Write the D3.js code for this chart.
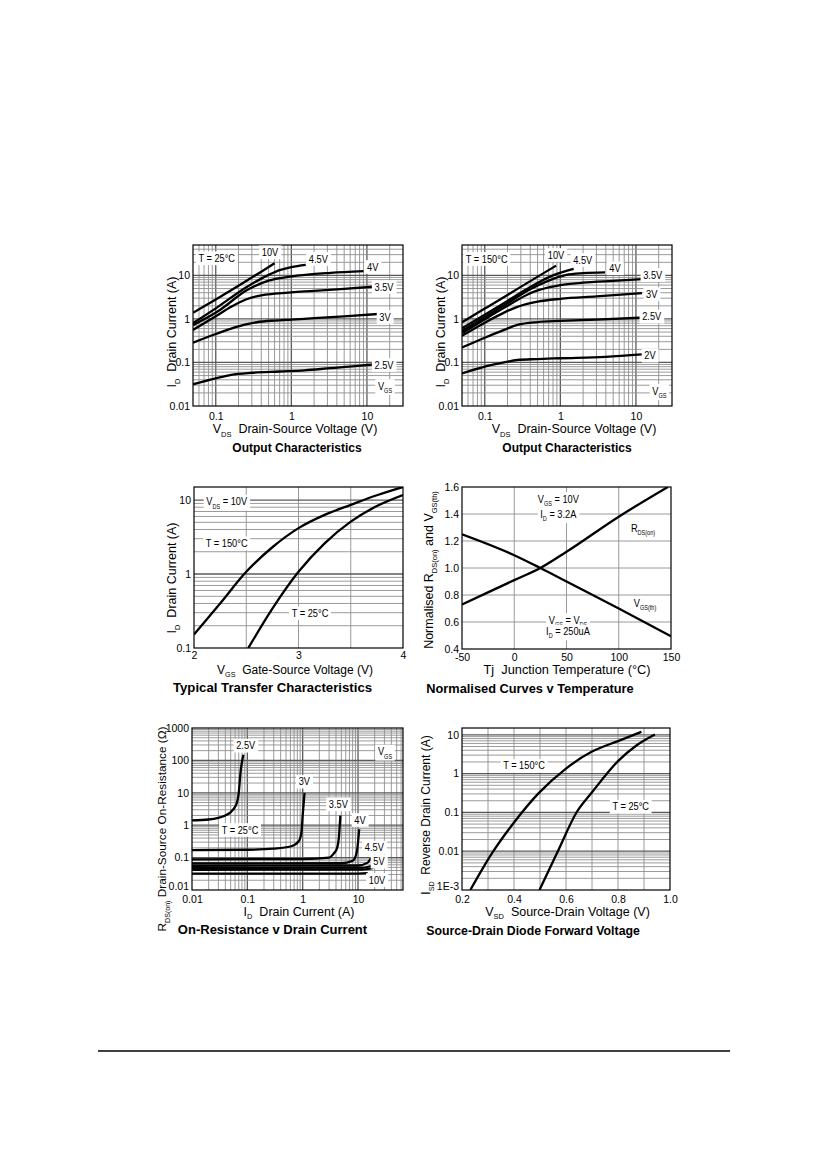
<!DOCTYPE html>
<html>
<head>
<meta charset="utf-8">
<script src="https://cdn.jsdelivr.net/npm/d3@7"></script>
<style>
  body { margin: 0; background: #fff; }
  svg { display: block; }
  text { font-family: "Liberation Sans", Arial, sans-serif; fill: #000; }
</style>
</head>
<body>
<svg id="page" width="826" height="1169"></svg>
<script>
/**
 * DATA
 * each curve is a list of [x, y] pairs
 * */

// Output characteristics, T = 25°C  (VDS in V, ID in A)
const out25Labels = ["10V", "4.5V", "4V", "3.5V", "3V", "2.5V"];
const out25Curves = [
  [[0.05, 1.38], [0.1, 2.8], [0.2, 5.8], [0.4, 12.2], [0.6, 19]],
  [[0.05, 0.8], [0.1, 1.75], [0.26, 5.5], [0.5, 10.3], [0.72, 13.4], [1.0, 15.5], [1.55, 17.5]],
  [[0.05, 0.72], [0.107, 1.5], [0.26, 4.6], [0.5, 7.6], [0.97, 9.4], [3.3, 11.5], [9, 12.6]],
  [[0.05, 0.56], [0.1, 1.15], [0.16, 1.9], [0.25, 2.8], [0.4, 3.5], [0.6, 3.8], [1, 4.1], [2, 4.4], [5, 4.9], [12, 5.5]],
  [[0.05, 0.285], [0.1, 0.45], [0.16, 0.6], [0.25, 0.75], [0.35, 0.84], [0.6, 0.92], [1, 0.97], [2, 1.04], [5, 1.15], [14, 1.3]],
  [[0.05, 0.0315], [0.1, 0.043], [0.16, 0.052], [0.3, 0.058], [0.7, 0.062], [1.5, 0.066], [3.3, 0.074], [7, 0.082], [13, 0.091]]
];

// Output characteristics, T = 150°C
const out150Labels = ["10V", "4.5V", "4V", "3.5V", "3V", "2.5V", "2V"];
const out150Curves = [
  [[0.05, 0.84], [0.1, 1.73], [0.2, 3.57], [0.4, 7.4], [0.88, 16.8]],
  [[0.05, 0.61], [0.1, 1.25], [0.2, 2.6], [0.4, 5.4], [0.8, 10], [1.5, 14.1]],
  [[0.05, 0.53], [0.1, 1.1], [0.2, 2.3], [0.4, 4.8], [0.7, 7.6], [1.2, 10.3], [2, 11.3], [3.9, 11.8]],
  [[0.05, 0.47], [0.1, 0.98], [0.2, 2], [0.4, 3.9], [0.7, 5.3], [1, 6], [2, 6.8], [5, 7.5], [12, 8.2]],
  [[0.05, 0.41], [0.1, 0.82], [0.18, 1.4], [0.27, 1.9], [0.5, 2.5], [1, 2.9], [3, 3.3], [12, 3.9]],
  [[0.05, 0.22], [0.1, 0.37], [0.18, 0.56], [0.27, 0.73], [0.5, 0.85], [1, 0.9], [3, 0.97], [12, 1.07]],
  [[0.05, 0.056], [0.1, 0.08], [0.18, 0.1], [0.27, 0.114], [0.5, 0.12], [1, 0.125], [4, 0.135], [12, 0.154]]
];

// Typical transfer characteristics (VGS in V, ID in A), VDS = 10V
const transfer150 = [[2, 0.152], [2.25, 0.4], [2.5, 1.07], [2.75, 2.3], [3, 4.17], [3.25, 6.3], [3.5, 8.6], [3.75, 11.6], [4, 15]];
const transfer25 = [[2.52, 0.1], [2.75, 0.34], [3, 1.07], [3.25, 2.6], [3.5, 5.1], [3.75, 8.3], [4, 11.7]];

// Normalised curves v temperature (Tj in °C)
const rdsonTemp = [[-50, 0.73], [0, 0.91], [25, 1.0], [50, 1.12], [100, 1.38], [147, 1.6]];
const vgsthTemp = [[-50, 1.25], [0, 1.095], [25, 1.0], [50, 0.9], [100, 0.7], [150, 0.494]];

// On-resistance v drain current (ID in A, RDS(on) in ohm), T = 25°C
const rdsLabels = ["2.5V", "3V", "3.5V", "4V", "4.5V", "5V", "", "10V"];
const rdsCurves = [
  [[0.01, 1.4], [0.02, 1.5], [0.04, 2], [0.055, 3], [0.065, 5], [0.07, 10], [0.075, 40], [0.085, 150]],
  [[0.01, 0.17], [0.1, 0.175], [0.3, 0.19], [0.6, 0.22], [0.85, 0.32], [0.95, 0.6], [1.0, 2], [1.08, 10]],
  [[0.01, 0.088], [1, 0.09], [3, 0.1], [3.6, 0.13], [4.2, 0.2], [4.5, 0.4], [4.8, 2]],
  [[0.01, 0.066], [5, 0.067], [8, 0.08], [9.5, 0.15], [10.5, 0.75]],
  [[0.01, 0.056], [10, 0.057], [15, 0.07], [17, 0.095]],
  [[0.01, 0.048], [12, 0.049], [19.5, 0.058]],
  [[0.01, 0.042], [12, 0.043], [19, 0.048]],
  [[0.01, 0.032], [10, 0.032], [15, 0.033]]
];

// Source-drain diode forward voltage (VSD in V, ISD in A)
const diode150 = [[0.232, 0.001], [0.315, 0.0088], [0.4, 0.055], [0.494, 0.31], [0.6, 1.35], [0.7, 3.7], [0.8, 6.9], [0.89, 12]];
const diode25 = [[0.498, 0.001], [0.565, 0.0088], [0.642, 0.104], [0.7, 0.33], [0.8, 2.1], [0.872, 5.4], [0.942, 10.2]];

// tick labels
const outXTicks = [0.1, 1, 10];
const outYTicks = [0.01, 0.1, 1, 10];
const transXTicks = [2, 3, 4];
const transYTicks = [0.1, 1, 10];
const tempXTicks = [-50, 0, 50, 100, 150];
const tempYTicks = [0.4, 0.6, 0.8, 1.0, 1.2, 1.4, 1.6];
const rdsXTicks = [0.01, 0.1, 1, 10];
const rdsYTicks = [0.01, 0.1, 1, 10, 100, 1000];
const diodeXTicks = [0.2, 0.4, 0.6, 0.8, 1.0];
const diodeYTicks = [0.001, 0.01, 0.1, 1, 10];

/**
 * HELPERS
 * */
const svg = d3.select("#page");
let clipId = 0;

// gridline values: every 1..9 x 10^n inside the domain
function logGrid(lo, hi) {
  const vals = [];
  for (let e = Math.floor(Math.log10(lo)); e <= Math.ceil(Math.log10(hi)); e++) {
    for (let m = 1; m <= 9; m++) {
      const v = m * Math.pow(10, e);
      if (v > lo * 1.001 && v < hi * 0.999) vals.push({ v: v, major: m === 1 });
    }
  }
  return vals;
}
const linGrid = arr => arr.map(v => ({ v: v, major: false }));

// text with subscripts: segs = ["V", {sub: "DS"}, " text"]
function rich(parent, segs, o) {
  const size = o.size || 12;
  const t = parent.append("text")
    .attr("font-size", size)
    .attr("text-anchor", o.anchor || "middle")
    .attr("font-weight", o.bold ? "bold" : null)
    .style("white-space", "pre");
  if (o.x !== undefined) t.attr("x", o.x).attr("y", o.y);
  let down = false;
  segs.forEach(s => {
    if (typeof s === "string") {
      t.append("tspan").attr("dy", down ? -size * 0.3 : null).text(s);
      down = false;
    } else {
      t.append("tspan").attr("font-size", size * 0.6).attr("dy", size * 0.3).text(s.sub);
      down = true;
    }
  });
  return t;
}

// label on a white box, centred on (cx, cy)
function tag(parent, cx, cy, segs) {
  const g = parent.append("g").attr("transform", `translate(${cx},${cy}) scale(0.88,1)`);
  const t = rich(g, segs, { size: 10.5, x: 0, y: 3.7 });
  const b = t.node().getBBox();
  g.insert("rect", "text")
    .attr("x", b.x - 3).attr("y", b.y - 1)
    .attr("width", b.width + 6).attr("height", b.height + 2)
    .attr("fill", "#fff");
}

// axis / title text (optionally rotated)
function caption(x, y, segs, o) {
  const g = svg.append("g").attr("transform", `translate(${x},${y})` + (o.rot ? ` rotate(${o.rot})` : ""));
  rich(g, segs, Object.assign({ x: 0, y: 0 }, o));
}

function panel(p) {
  const g = svg.append("g");
  const x = (p.xLog ? d3.scaleLog() : d3.scaleLinear()).domain(p.xDomain).range([p.left, p.right]);
  const y = (p.yLog ? d3.scaleLog() : d3.scaleLinear()).domain(p.yDomain).range([p.bottom, p.top]);

  // grid
  g.selectAll("line.gx").data(p.xGrid).join("line")
    .attr("class", "gx")
    .attr("x1", d => x(d.v)).attr("x2", d => x(d.v))
    .attr("y1", p.top).attr("y2", p.bottom)
    .attr("stroke", d => d.major ? "#5a5a5a" : "#8e8e8e")
    .attr("stroke-width", d => d.major ? 1.3 : 0.9);
  g.selectAll("line.gy").data(p.yGrid).join("line")
    .attr("class", "gy")
    .attr("y1", d => y(d.v)).attr("y2", d => y(d.v))
    .attr("x1", p.left).attr("x2", p.right)
    .attr("stroke", d => d.major ? "#5a5a5a" : "#8e8e8e")
    .attr("stroke-width", d => d.major ? 1.3 : 0.9);

  // axes (labels only)
  const xa = g.append("g").attr("transform", `translate(0,${p.bottom})`)
    .call(d3.axisBottom(x).tickValues(p.xTicks).tickSize(0).tickPadding(p.xPad || 5).tickFormat(p.xFmt));
  const ya = g.append("g").attr("transform", `translate(${p.left},0)`)
    .call(d3.axisLeft(y).tickValues(p.yTicks).tickSize(0).tickPadding(3).tickFormat(p.yFmt));
  [xa, ya].forEach(a => {
    a.select(".domain").remove();
    a.attr("font-family", null).attr("font-size", 10.5);
    a.selectAll("text").attr("fill", "#000");
  });
  // lowest y label sits a little higher so it clears the first x label
  if (p.liftLast) ya.selectAll(".tick text").filter((d, i) => i === 0).attr("dy", "-0.05em");

  // curves
  const id = "clip" + (clipId++);
  g.append("clipPath").attr("id", id).append("rect")
    .attr("x", p.left).attr("y", p.top)
    .attr("width", p.right - p.left).attr("height", p.bottom - p.top);
  const line = d3.line().x(d => x(d[0])).y(d => y(d[1])).curve(d3.curveMonotoneX);
  g.append("g").attr("clip-path", `url(#${id})`)
    .selectAll("path").data(p.curves).join("path")
    .attr("d", line)
    .attr("fill", "none")
    .attr("stroke", "#000")
    .attr("stroke-width", 2.3)
    .attr("stroke-linejoin", "round");

  // frame
  g.append("rect")
    .attr("x", p.left).attr("y", p.top)
    .attr("width", p.right - p.left).attr("height", p.bottom - p.top)
    .attr("fill", "none").attr("stroke", "#000").attr("stroke-width", 1.2);

  (p.tags || []).forEach(t => tag(g, t[0], t[1], t[2]));
  return g;
}

const plain = d => String(d);

/**
 * PANELS
 * */

// 1. Output characteristics 25°C
panel({
  left: 193, top: 245, right: 403, bottom: 406, xPad: 7,
  xLog: true, yLog: true, xDomain: [0.05, 30], yDomain: [0.01, 50],
  xGrid: logGrid(0.05, 30), yGrid: logGrid(0.01, 50),
  xTicks: outXTicks, yTicks: outYTicks, xFmt: plain, yFmt: plain,
  curves: out25Curves,
  tags: [
    [216.7, 258.3, ["T = 25°C"]],
    [270, 252.3, [out25Labels[0]]],
    [318.3, 259, [out25Labels[1]]],
    [372.7, 267, [out25Labels[2]]],
    [384, 287, [out25Labels[3]]],
    [385, 317, [out25Labels[4]]],
    [384, 365, [out25Labels[5]]],
    [385, 386, ["V", { sub: "GS" }]]
  ]
});
caption(295, 433, ["V", { sub: "DS" }, "  Drain-Source Voltage (V)"], { size: 12.5 });
caption(297, 451.5, ["Output Characteristics"], { size: 12, bold: true });
caption(176, 332, ["I", { sub: "D" }, "  Drain Current (A)"], { size: 12.5, rot: -90 });

// 2. Output characteristics 150°C
panel({
  left: 462, top: 245, right: 672, bottom: 406, xPad: 7,
  xLog: true, yLog: true, xDomain: [0.05, 30], yDomain: [0.01, 50],
  xGrid: logGrid(0.05, 30), yGrid: logGrid(0.01, 50),
  xTicks: outXTicks, yTicks: outYTicks, xFmt: plain, yFmt: plain,
  curves: out150Curves,
  tags: [
    [486.7, 259, ["T = 150°C"]],
    [556, 255, [out150Labels[0]]],
    [582.7, 260, [out150Labels[1]]],
    [615, 268.3, [out150Labels[2]]],
    [652.7, 275, [out150Labels[3]]],
    [651.7, 294.3, [out150Labels[4]]],
    [651.7, 316.7, [out150Labels[5]]],
    [650, 355.7, [out150Labels[6]]],
    [659.3, 391, ["V", { sub: "GS" }]]
  ]
});
caption(574, 433, ["V", { sub: "DS" }, "  Drain-Source Voltage (V)"], { size: 12.5 });
caption(567, 451.5, ["Output Characteristics"], { size: 12, bold: true });
caption(445, 332, ["I", { sub: "D" }, "  Drain Current (A)"], { size: 12.5, rot: -90 });

// 3. Typical transfer characteristics
panel({
  left: 194, top: 487, right: 403, bottom: 648, xPad: 4,
  xLog: false, yLog: true, xDomain: [2, 4], yDomain: [0.1, 15],
  xGrid: linGrid([2.5, 3, 3.5]), yGrid: logGrid(0.1, 15),
  xTicks: transXTicks, yTicks: transYTicks, xFmt: plain, yFmt: plain,
  curves: [transfer150, transfer25],
  tags: [
    [226.7, 501.7, ["V", { sub: "DS" }, " = 10V"]],
    [226.7, 543.3, ["T = 150°C"]],
    [310, 613.3, ["T = 25°C"]]
  ]
});
caption(295, 673.5, ["V", { sub: "GS" }, "  Gate-Source Voltage (V)"], { size: 12 });
caption(272.5, 692, ["Typical Transfer Characteristics"], { size: 13.2, bold: true });
caption(176, 578, ["I", { sub: "D" }, "  Drain Current (A)"], { size: 12.5, rot: -90 });

// 4. Normalised curves v temperature
panel({
  left: 462, top: 487, right: 671, bottom: 649, xPad: 5,
  xLog: false, yLog: false, xDomain: [-50, 150], yDomain: [0.4, 1.6],
  xGrid: linGrid([0, 50, 100]), yGrid: linGrid([0.6, 0.8, 1.0, 1.2, 1.4]),
  xTicks: tempXTicks, yTicks: tempYTicks, xFmt: plain, yFmt: d3.format(".1f"),
  curves: [rdsonTemp, vgsthTemp],
  tags: [
    [558.3, 499, ["V", { sub: "GS" }, " = 10V"]],
    [558.3, 514.3, ["I", { sub: "D" }, " = 3.2A"]],
    [643, 528.3, ["R", { sub: "DS(on)" }]],
    [645, 603.3, ["V", { sub: "GS(th)" }]],
    [568, 620, ["V", { sub: "GS" }, " = V", { sub: "DS" }]],
    [568, 631.5, ["I", { sub: "D" }, " = 250uA"]]
  ]
});
caption(567, 673.5, ["Tj  Junction Temperature (°C)"], { size: 12.8 });
caption(530, 692.5, ["Normalised Curves v Temperature"], { size: 12.8, bold: true });
caption(433, 570, ["Normalised R", { sub: "DS(on)" }, " and V", { sub: "GS(th)" }], { size: 12.5, rot: -90 });

// 5. On-resistance v drain current
panel({
  left: 192, top: 728, right: 403, bottom: 890, xPad: 6, liftLast: true,
  xLog: true, yLog: true, xDomain: [0.01, 65], yDomain: [0.01, 1000],
  xGrid: logGrid(0.01, 65), yGrid: logGrid(0.01, 1000),
  xTicks: rdsXTicks, yTicks: rdsYTicks, xFmt: plain, yFmt: plain,
  curves: rdsCurves,
  tags: [
    [245.7, 745.7, [rdsLabels[0]]],
    [385, 751.7, ["V", { sub: "GS" }]],
    [304.3, 781.7, [rdsLabels[1]]],
    [338.3, 804.3, [rdsLabels[2]]],
    [360, 820, [rdsLabels[3]]],
    [240, 830, ["T = 25°C"]],
    [374.3, 847.7, [rdsLabels[4]]],
    [379, 861.7, [rdsLabels[5]]],
    [377, 880, [rdsLabels[7]]]
  ]
});
caption(299, 915.5, ["I", { sub: "D" }, "  Drain Current (A)"], { size: 12.5 });
caption(272.5, 934, ["On-Resistance v Drain Current"], { size: 13, bold: true });
caption(166, 829, ["R", { sub: "DS(on)" }, " Drain-Source On-Resistance (Ω)"], { size: 11.8, rot: -90 });

// 6. Source-drain diode forward voltage
panel({
  left: 462, top: 728, right: 670, bottom: 890, xPad: 6, liftLast: true,
  xLog: false, yLog: true, xDomain: [0.2, 1.0], yDomain: [0.001, 15],
  xGrid: linGrid([0.3, 0.4, 0.5, 0.6, 0.7, 0.8, 0.9]), yGrid: logGrid(0.001, 15),
  xTicks: diodeXTicks, yTicks: diodeYTicks, xFmt: d3.format(".1f"),
  yFmt: d => d === 0.001 ? "1E-3" : String(d),
  curves: [diode150, diode25],
  tags: [
    [524, 765.7, ["T = 150°C"]],
    [630.7, 806.7, ["T = 25°C"]]
  ]
});
caption(567.5, 915.5, ["V", { sub: "SD" }, "  Source-Drain Voltage (V)"], { size: 12.5 });
caption(533, 934.5, ["Source-Drain Diode Forward Voltage"], { size: 12.3, bold: true });
caption(430, 815, ["I", { sub: "SD" }, "  Reverse Drain Current (A)"], { size: 12, rot: -90 });

// footer rule
svg.append("line")
  .attr("x1", 98).attr("x2", 730).attr("y1", 1051).attr("y2", 1051)
  .attr("stroke", "#000").attr("stroke-width", 1.5);
</script>
</body>
</html>
